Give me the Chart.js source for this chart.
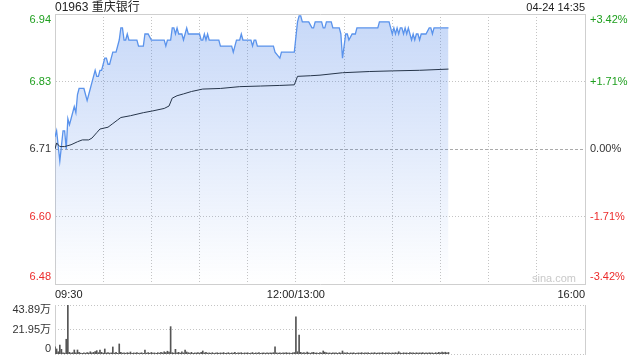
<!DOCTYPE html>
<html><head><meta charset="utf-8">
<script src="https://cdn.jsdelivr.net/npm/chart.js@4/dist/chart.umd.min.js"></script>
<style>
html,body{margin:0;padding:0;background:#fff;}
#wrap{position:relative;width:640px;height:360px;overflow:hidden;font-family:"Liberation Sans",Arial,"Noto Sans CJK SC",sans-serif;}
canvas{position:absolute;left:0;}
#main{top:0;}
#vol{top:300px;}
.txt{position:absolute;white-space:nowrap;color:#222;}
#title{left:55px;top:0;font-size:12px;line-height:15px;}
#date{right:55px;top:0;font-size:11px;line-height:15px;}
#mark{left:532px;top:272px;font-size:11px;line-height:13px;color:#c9c9c9;}
</style></head><body>
<div id="wrap">
<canvas id="main" width="640" height="300"></canvas>
<canvas id="vol" width="640" height="60"></canvas>
<div class="txt" id="title">01963 重庆银行</div>
<div class="txt" id="date">04-24 14:35</div>
<div class="txt" id="mark">sina.com</div>
</div>
<script>
// ---- data (minutes since 09:30, lunch break removed) ----
const priceTimes = [
  0,1,3,5,6,7,8,9,10,12,
  13,14,15,18,19,20,21,22,23,24,
  25,26,27,28,29,30,31,32,33,34,
  35,36,38,40,41,42,43,44,45,46,
  51,52,55,56,58,60,68,69,70,72,
  73,74,75,76,77,79,80,81,82,83,
  90,91,92,93,94,95,96,102,103,110,
  111,113,115,116,117,122,123,124,125,126,
  136,137,140,141,149,151,152,153,154,158,
  160,161,162,166,167,168,169,172,173,177,
  178,179,180,181,182,183,185,187,188,201,
  202,208,210,211,212,213,214,215,216,217,
  218,219,220,221,222,223,224,225,226,227,
  228,229,231,233,234,235,236,245
];
const prices = [
  6.73,6.74,6.69,6.74,6.74,6.71,6.76,6.75,6.76,6.78,
  6.77,6.80,6.81,6.81,6.80,6.79,6.80,6.81,6.82,6.83,
  6.84,6.83,6.83,6.84,6.84,6.85,6.86,6.86,6.85,6.85,
  6.86,6.87,6.87,6.89,6.91,6.91,6.89,6.89,6.90,6.89,
  6.89,6.88,6.88,6.90,6.90,6.89,6.89,6.88,6.89,6.89,
  6.91,6.91,6.90,6.91,6.90,6.90,6.89,6.90,6.91,6.90,
  6.90,6.89,6.89,6.90,6.89,6.90,6.89,6.89,6.88,6.88,
  6.87,6.89,6.89,6.90,6.89,6.89,6.88,6.89,6.89,6.88,
  6.88,6.87,6.86,6.87,6.87,6.92,6.93,6.93,6.92,6.92,
  6.91,6.91,6.92,6.92,6.91,6.91,6.92,6.92,6.91,6.91,
  6.90,6.86,6.88,6.90,6.90,6.89,6.90,6.90,6.91,6.91,
  6.92,6.92,6.90,6.91,6.90,6.91,6.90,6.91,6.91,6.90,
  6.91,6.90,6.91,6.90,6.89,6.90,6.89,6.90,6.90,6.89,
  6.90,6.90,6.90,6.91,6.91,6.90,6.91,6.91
];
const avgTimes = [0,1,3,6,10,14,17,21,23,26,28,33,36,39,41,47,55,61,68,71,73,76,80,85,92,103,115,128,140,149,151,159,165,179,196,210,227,245];
const avgPrices = [6.710,6.720,6.714,6.714,6.717,6.722,6.725,6.725,6.728,6.737,6.743,6.746,6.752,6.758,6.762,6.765,6.770,6.773,6.777,6.781,6.794,6.798,6.801,6.805,6.809,6.810,6.813,6.814,6.815,6.816,6.830,6.831,6.832,6.836,6.838,6.839,6.840,6.842];
// volume per minute, in 万
const volumes = [
  6.5,4.5,2.0,8.0,4.2,1.0,0.8,13.2,43.89,1.5,
  0.8,1.2,3.6,1.0,3.6,1.5,0.8,0.6,1.0,0.7,
  1.2,0.9,2.0,1.0,1.5,2.2,3.0,1.2,3.6,1.5,
  0.8,4.5,0.9,1.2,0.8,1.0,6.3,0.8,1.5,0.6,
  9.0,1.5,0.8,1.0,0.7,1.2,0.9,1.8,0.6,1.0,
  0.8,1.3,0.7,0.9,1.1,0.6,3.6,0.8,1.2,0.7,
  1.4,0.9,1.0,0.6,1.2,0.8,1.5,1.0,2.0,1.3,
  2.5,1.8,24.5,1.2,0.9,4.2,1.0,1.5,0.8,2.0,
  1.0,3.6,1.8,1.2,0.8,1.5,0.7,1.0,0.9,1.3,
  0.8,1.5,2.7,1.0,1.6,0.8,1.0,0.7,1.2,0.6,
  0.9,1.1,0.7,1.0,0.8,1.3,0.6,0.9,1.2,0.7,
  1.0,0.8,1.4,0.6,1.0,0.9,1.2,0.7,1.0,0.8,
  1.1,0.6,0.9,1.3,0.7,1.0,0.8,1.2,0.6,0.9,
  1.0,0.7,1.1,0.8,1.0,0.9,1.2,6.5,1.0,0.8,
  1.1,0.7,1.0,0.9,1.2,0.8,1.0,0.7,1.1,1.3,
  33.4,2.0,17.0,1.5,0.9,1.2,0.8,1.8,1.0,0.7,
  1.2,1.5,0.8,1.0,0.6,1.3,0.9,2.7,1.6,1.2,
  0.8,1.0,0.7,1.1,0.9,1.0,0.6,1.2,0.8,2.7,
  1.0,0.9,1.2,0.7,1.0,0.8,1.1,0.6,0.9,1.0,
  0.8,1.2,0.7,1.0,0.9,1.1,0.6,1.0,0.8,1.2,
  0.7,0.9,1.0,0.8,1.3,0.6,1.0,0.9,1.1,0.7,
  1.0,0.8,1.2,0.9,2.0,1.0,0.7,1.1,0.8,1.0,
  0.6,1.2,0.9,1.0,0.7,1.1,0.8,1.0,0.9,1.2,
  0.7,1.0,0.8,1.1,0.9,1.0,0.6,1.2,0.8,1.5,
  1.0,1.8,1.2,1.6,1.0,1.4
];
const xTickMinutes = [0,150,330];
const xTickLabels = ['09:30','12:00/13:00','16:00'];
const priceTickLabels = ['6.94','6.83','6.71','6.60','6.48'];      // top -> bottom
const pctTickLabels = ['+3.42%','+1.71%','0.00%','-1.71%','-3.42%']; // top -> bottom
const volTickLabels = ['43.89万','21.95万','0'];                     // top -> bottom
const prevClose = 6.71;
const priceMin = 6.487, priceMax = 6.933;
const volMax = 43.89;

// ---- styling ----
const FONT = "'Liberation Sans', Arial, 'Noto Sans CJK SC', sans-serif";
Chart.defaults.font.family = FONT;
Chart.defaults.font.size = 11;
Chart.defaults.color = '#333';
const GREEN = '#1e9f1e', RED = '#ec2b2b', DARK = '#333333';
const tickColors = [GREEN, GREEN, DARK, RED, RED]; // top -> bottom
const GRID = '#c4c4c4', BORDER = '#cfcfcf', NONE = 'rgba(0,0,0,0)';

function labelTicks(scale, insetTop, insetBottom) {
  const r = scale.max - scale.min;
  scale.ticks = [insetBottom, 0.25, 0.5, 0.75, 1 - insetTop].map(f => ({ value: scale.min + f * r }));
}
const mainTicks = s => labelTicks(s, 6 / 270, 7 / 270);
const noPad = s => { s.paddingTop = 0; s.paddingBottom = 0; };

const fillGradient = (c) => {
  const ch = c.chart, a = ch.chartArea;
  if (!a) return 'rgba(60,120,230,0.2)';
  const g = ch.ctx.createLinearGradient(0, a.top, 0, a.bottom);
  g.addColorStop(0, 'rgba(60,120,230,0.29)');
  g.addColorStop(1, 'rgba(60,120,230,0.0)');
  return g;
};

new Chart(document.getElementById('main'), {
  type: 'line',
  data: {
    datasets: [
      { label: 'avg', xAxisID: 'x', yAxisID: 'y',
        data: avgTimes.map((t, i) => ({ x: t, y: avgPrices[i] })),
        borderColor: '#26354a', borderWidth: 1, pointRadius: 0, fill: false, tension: 0 },
      { label: 'price', xAxisID: 'x', yAxisID: 'y',
        data: priceTimes.map((t, i) => ({ x: t, y: prices[i] })),
        borderColor: '#5a93ec', borderWidth: 1.3, pointRadius: 0, fill: 'start',
        backgroundColor: fillGradient, tension: 0 }
    ]
  },
  options: {
    responsive: false, animation: false, devicePixelRatio: 1,
    layout: { padding: { top: 14, left: 0, right: 0, bottom: 0 } },
    plugins: { legend: { display: false }, tooltip: { enabled: false } },
    scales: {
      x: {
        type: 'linear', position: 'bottom', min: 0, max: 330,
        ticks: {
          stepSize: 30, autoSkip: false, maxRotation: 0, align: 'inner', padding: 4, color: '#222',
          callback: (v) => { const k = xTickMinutes.indexOf(v); return k >= 0 ? xTickLabels[k] : ''; }
        },
        grid: { color: (c) => (c.index === 0 || c.index === 11) ? NONE : GRID, drawTicks: false, lineWidth: 1 },
        border: { display: true, color: BORDER, dash: [1, 2] },
        afterFit: (s) => { s.height = 16; }
      },
      xTop: {
        type: 'linear', position: 'top', min: 0, max: 330,
        ticks: { display: false }, grid: { display: false, drawTicks: false },
        border: { display: true, color: BORDER },
        afterFit: (s) => { s.height = 0; }
      },
      y: {
        type: 'linear', position: 'left', min: priceMin, max: priceMax,
        afterBuildTicks: mainTicks,
        ticks: {
          padding: 4,
          callback: (v, i) => priceTickLabels[4 - i],
          color: (c) => tickColors[4 - c.index]
        },
        grid: { color: (c) => (c.index === 1 || c.index === 3) ? GRID : NONE, drawTicks: false },
        border: { display: true, color: BORDER, dash: [1, 2] },
        afterFit: (s) => { s.width = 55; noPad(s); }
      },
      yPct: {
        type: 'linear', position: 'right', min: priceMin, max: priceMax,
        afterBuildTicks: mainTicks,
        ticks: {
          padding: 5,
          callback: (v, i) => pctTickLabels[4 - i],
          color: (c) => tickColors[4 - c.index]
        },
        grid: { color: (c) => (c.index === 2) ? '#aaaaaa' : NONE, drawTicks: false },
        border: { display: true, color: BORDER, dash: [3, 2] },
        afterFit: (s) => { s.width = 55; noPad(s); }
      }
    }
  }
});

new Chart(document.getElementById('vol'), {
  type: 'bar',
  data: {
    datasets: [{
      xAxisID: 'x', yAxisID: 'y',
      data: volumes.map((v, i) => ({ x: i, y: v })),
      backgroundColor: '#555555', borderWidth: 0, barThickness: 1
    }]
  },
  options: {
    responsive: false, animation: false, devicePixelRatio: 1,
    layout: { padding: { top: 5, bottom: 6, left: 0, right: 0 } },
    plugins: { legend: { display: false }, tooltip: { enabled: false } },
    scales: {
      x: { type: 'linear', min: 0, max: 330, display: false, offset: false, grid: { offset: false } },
      y: {
        type: 'linear', position: 'left', min: 0, max: volMax,
        afterBuildTicks: (s) => { s.ticks = [5 / 49, 0.5, 1 - 5 / 49].map(f => ({ value: f * volMax })); },
        ticks: { padding: 4, color: DARK, callback: (v, i) => volTickLabels[2 - i] },
        grid: { display: false, drawTicks: false },
        border: { display: true, color: BORDER },
        afterFit: (s) => { s.width = 55; noPad(s); }
      },
      y2: {
        type: 'linear', position: 'right', min: 0, max: volMax,
        afterBuildTicks: (s) => { s.ticks = [0, 0.5, 1].map(f => ({ value: f * volMax })); },
        ticks: { display: false },
        grid: { color: GRID, drawTicks: false },
        border: { display: true, color: BORDER, dash: [1, 2] },
        afterFit: (s) => { s.width = 55; noPad(s); }
      }
    }
  }
});
</script>
</body></html>
